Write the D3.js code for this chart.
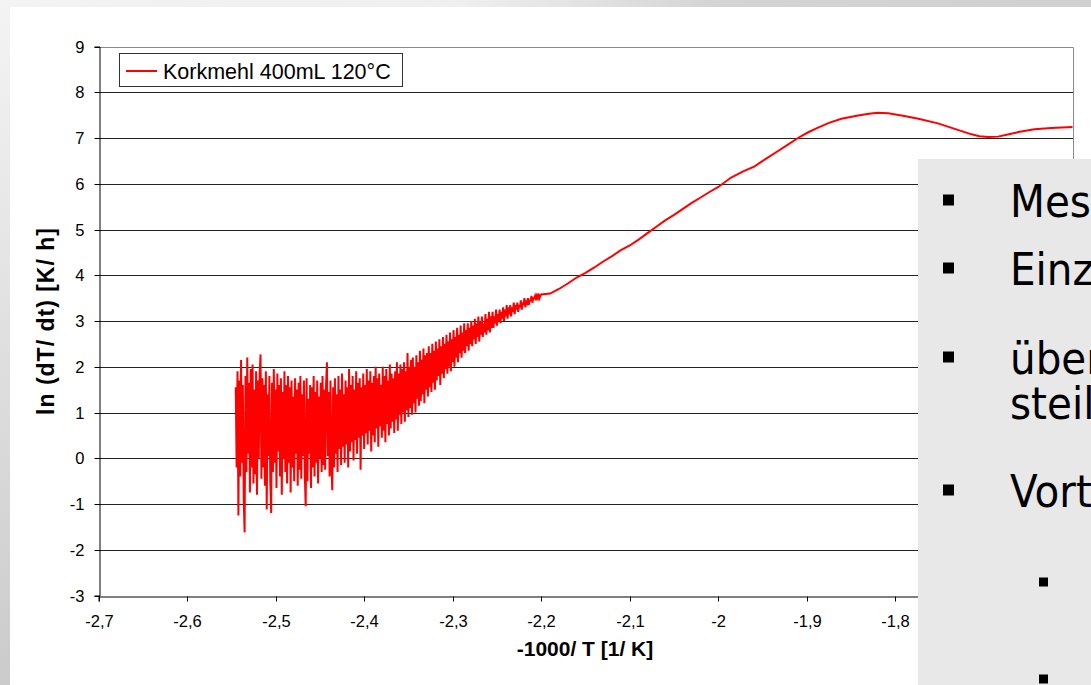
<!DOCTYPE html>
<html>
<head>
<meta charset="utf-8">
<script src="https://cdn.jsdelivr.net/npm/d3@7"></script>
<style>
  html, body { margin: 0; padding: 0; background: #fff; overflow: hidden; }
  svg { display: block; }
</style>
</head>
<body>
<svg id="chart" width="1091" height="685"></svg>
<script>
// Axis ticks
const yTicks = [-3, -2, -1, 0, 1, 2, 3, 4, 5, 6, 7, 8, 9];
const xTicks = [-2.7, -2.6, -2.5, -2.4, -2.3, -2.2, -2.1, -2.0, -1.9, -1.8, -1.7, -1.6];

// Series: ln(dT/dt) over -1000/T, noisy low-temperature part
const noiseX = [
  -2.545, -2.544, -2.543, -2.542, -2.541, -2.540, -2.539, -2.538, -2.537, -2.536,
  -2.535, -2.534, -2.533, -2.532, -2.531, -2.530, -2.529, -2.528, -2.527, -2.526,
  -2.525, -2.524, -2.523, -2.522, -2.521, -2.520, -2.519, -2.518, -2.517, -2.516,
  -2.515, -2.514, -2.513, -2.512, -2.511, -2.510, -2.509, -2.508, -2.507, -2.506,
  -2.505, -2.504, -2.503, -2.502, -2.501, -2.500, -2.499, -2.498, -2.497, -2.496,
  -2.495, -2.494, -2.493, -2.492, -2.491, -2.490, -2.489, -2.488, -2.487, -2.486,
  -2.485, -2.484, -2.483, -2.482, -2.481, -2.480, -2.479, -2.478, -2.477, -2.476,
  -2.475, -2.474, -2.473, -2.472, -2.471, -2.470, -2.469, -2.468, -2.467, -2.466,
  -2.465, -2.464, -2.463, -2.462, -2.461, -2.460, -2.459, -2.458, -2.457, -2.456,
  -2.455, -2.454, -2.453, -2.452, -2.451, -2.450, -2.449, -2.448, -2.447, -2.446,
  -2.445, -2.444, -2.443, -2.442, -2.441, -2.440, -2.439, -2.438, -2.437, -2.436,
  -2.435, -2.434, -2.433, -2.432, -2.431, -2.430, -2.429, -2.428, -2.427, -2.426,
  -2.425, -2.424, -2.423, -2.422, -2.421, -2.420, -2.419, -2.418, -2.417, -2.416,
  -2.415, -2.414, -2.413, -2.412, -2.411, -2.410, -2.409, -2.408, -2.407, -2.406,
  -2.405, -2.404, -2.403, -2.402, -2.401, -2.400, -2.399, -2.398, -2.397, -2.396,
  -2.395, -2.394, -2.393, -2.392, -2.391, -2.390, -2.389, -2.388, -2.387, -2.386,
  -2.385, -2.384, -2.383, -2.382, -2.381, -2.380, -2.379, -2.378, -2.377, -2.376,
  -2.375, -2.374, -2.373, -2.372, -2.371, -2.370, -2.369, -2.368, -2.367, -2.366,
  -2.365, -2.364, -2.363, -2.362, -2.361, -2.360, -2.359, -2.358, -2.357, -2.356,
  -2.355, -2.354, -2.353, -2.352, -2.351, -2.350, -2.349, -2.348, -2.347, -2.346,
  -2.345, -2.344, -2.343, -2.342, -2.341, -2.340, -2.339, -2.338, -2.337, -2.336,
  -2.335, -2.334, -2.333, -2.332, -2.331, -2.330, -2.329, -2.328, -2.327, -2.326,
  -2.325, -2.324, -2.323, -2.322, -2.321, -2.320, -2.319, -2.318, -2.317, -2.316,
  -2.315, -2.314, -2.313, -2.312, -2.311, -2.310, -2.309, -2.308, -2.307, -2.306,
  -2.305, -2.304, -2.303, -2.302, -2.301, -2.300, -2.299, -2.298, -2.297, -2.296,
  -2.295, -2.294, -2.293, -2.292, -2.291, -2.290, -2.289, -2.288, -2.287, -2.286,
  -2.285, -2.284, -2.283, -2.282, -2.281, -2.280, -2.279, -2.278, -2.277, -2.276,
  -2.275, -2.274, -2.273, -2.272, -2.271, -2.270, -2.269, -2.268, -2.267, -2.266,
  -2.265, -2.264, -2.263, -2.262, -2.261, -2.260, -2.259, -2.258, -2.257, -2.256,
  -2.255, -2.254, -2.253, -2.252, -2.251, -2.250, -2.249, -2.248, -2.247, -2.246,
  -2.245, -2.244, -2.243, -2.242, -2.241, -2.240, -2.239, -2.238, -2.237, -2.236,
  -2.235, -2.234, -2.233, -2.232, -2.231, -2.230, -2.229, -2.228, -2.227, -2.226,
  -2.225, -2.224, -2.223, -2.222, -2.221, -2.220, -2.219, -2.218, -2.217, -2.216,
  -2.215, -2.214, -2.213, -2.212, -2.211, -2.210, -2.209, -2.208, -2.207, -2.206,
  -2.205, -2.204, -2.203, -2.202, -2.201, -2.200
];
const noiseY = [
  1.55, -0.2, 1.9, -1.25, 1.7, -0.4, 2.15, -0.1, 1.6, -0.9,
  -1.62, 1.8, -0.3, 2.2, 0.1, 1.65, -0.75, 1.95, -0.2, 2.05,
  -0.55, 1.5, -0.35, 1.9, -0.8, 1.7, 0.0, 1.85, 2.27, -0.45,
  1.75, -0.2, 1.6, -0.6, 1.9, -1.12, 1.4, 0.05, 1.8, -0.5,
  -1.2, 1.65, -0.3, 1.95, -0.1, 1.5, -0.65, 1.85, 0.15, 1.6,
  -0.4, 1.75, -0.8, 1.45, 0.0, 1.9, -0.3, 1.6, -0.55, 1.8,
  -0.1, 1.55, -0.75, 1.7, -0.2, 1.35, -0.5, 1.75, 0.1, 1.5,
  -0.6, 1.65, -0.25, 1.8, -0.45, 1.4, 0.05, 1.7, -0.35, -1.05,
  1.75, -0.5, 1.3, 0.1, 1.6, -0.65, 1.55, -0.2, 1.8, -0.4,
  1.45, -0.1, 1.7, -0.55, 1.35, 0.0, 1.65, -0.3, 1.8, -0.15,
  1.5, -0.25, 1.6, 2.1, 0.05, 1.45, -0.4, 1.7, -0.1, -0.7,
  1.55, -0.2, 1.75, 0.1, 1.4, -0.3, 1.8, 0.2, 1.5, -0.15,
  1.85, 0.25, 1.4, -0.1, 1.7, 0.3, 1.55, -0.2, 1.95, 0.15,
  1.6, 0.35, 1.8, -0.05, 1.5, 0.4, 1.9, 0.1, 1.65, 0.45,
  1.75, -0.25, 1.55, 0.5, 1.85, 0.2, 1.6, 0.55, 1.95, 0.3,
  1.7, 0.6, 1.9, 0.15, 1.65, 0.5, 1.8, 0.35, 2.0, 0.65,
  1.75, 0.25, 1.85, 0.7, 1.6, 0.45, 2.0, 0.6, 1.8, 0.35,
  1.95, 0.75, 1.7, 0.5, 2.05, 0.65, 1.85, 0.8, 1.75, 0.55,
  1.9, 0.85, 2.1, 0.6, 1.85, 0.95, 2.05, 0.75, 1.95, 1.0,
  2.1, 0.8, 1.9, 1.05, 2.3, 0.9, 2.0, 1.1, 2.15, 0.95,
  2.2, 1.2, 2.0, 1.0, 2.25, 1.3, 2.1, 1.15, 2.35, 1.25,
  2.15, 1.4, 2.4, 1.2, 2.25, 1.5, 2.3, 1.35, 2.45, 1.55,
  2.3, 1.45, 2.5, 1.65, 2.35, 1.5, 2.55, 1.7, 2.4, 1.8,
  2.6, 1.6, 2.45, 1.85, 2.65, 1.75, 2.5, 1.95, 2.7, 1.85,
  2.55, 2.0, 2.75, 1.9, 2.6, 2.1, 2.8, 2.0, 2.65, 2.2,
  2.85, 2.1, 2.7, 2.3, 2.9, 2.2, 2.75, 2.35, 2.95, 2.3,
  2.8, 2.45, 2.95, 2.35, 2.85, 2.5, 3.0, 2.45, 2.9, 2.6,
  3.05, 2.5, 2.95, 2.65, 3.1, 2.55, 3.0, 2.7, 3.1, 2.65,
  2.95, 2.75, 3.15, 2.7, 3.05, 2.8, 3.2, 2.75, 3.1, 2.85,
  3.2, 2.85, 3.1, 2.95, 3.25, 2.9, 3.15, 3.0, 3.25, 2.95,
  3.2, 3.05, 3.3, 3.0, 3.25, 3.1, 3.35, 3.05, 3.3, 3.15,
  3.35, 3.1, 3.3, 3.2, 3.4, 3.15, 3.35, 3.25, 3.4, 3.2,
  3.35, 3.3, 3.45, 3.25, 3.4, 3.35, 3.5, 3.3, 3.45, 3.4,
  3.5, 3.35, 3.45, 3.45, 3.55, 3.4, 3.5, 3.5, 3.55, 3.45,
  3.55, 3.5, 3.6, 3.5, 3.55, 3.58
];
// Smooth high-temperature part
const smoothX = [
  -2.19, -2.18, -2.17, -2.16, -2.15, -2.14, -2.13, -2.12, -2.11, -2.10,
  -2.09, -2.08, -2.07, -2.06, -2.05, -2.04, -2.03, -2.02, -2.01, -2.00,
  -1.986, -1.972, -1.959, -1.946, -1.933, -1.921, -1.910, -1.899, -1.888, -1.875,
  -1.861, -1.842, -1.830, -1.820, -1.808, -1.790, -1.774, -1.752, -1.733, -1.714,
  -1.705, -1.695, -1.684, -1.672, -1.661, -1.643, -1.624, -1.600
];
const smoothY = [
  3.6, 3.7, 3.82, 3.95, 4.05, 4.17, 4.3, 4.42, 4.55, 4.65,
  4.78, 4.92, 5.06, 5.2, 5.32, 5.45, 5.58, 5.7, 5.82, 5.93,
  6.13, 6.27, 6.38, 6.55, 6.71, 6.86, 7.0, 7.12, 7.22, 7.33,
  7.42, 7.49, 7.53, 7.55, 7.54, 7.48, 7.42, 7.32, 7.2, 7.08,
  7.04, 7.02, 7.03, 7.08, 7.13, 7.19, 7.22, 7.24
];

const seriesName = "Korkmehl 400mL 120°C";
const xTitle = "-1000/ T [1/ K]";
const yTitle = "ln (dT/ dt) [K/ h]";
const bulletLines = ["Messungen", "Einzelwerte", "überwiegend", "steiler", "Vorteile"];

const svg = d3.select("#chart");
const W = 1091, H = 685;
const defs = svg.append("defs");

// Slide background
svg.append("rect").attr("width", W).attr("height", H).attr("fill", "#fff");
const gLeft = defs.append("linearGradient").attr("id", "gLeft")
  .attr("x1", 0).attr("y1", 0).attr("x2", 0).attr("y2", 1);
gLeft.append("stop").attr("offset", 0).attr("stop-color", "#f4f4f4");
gLeft.append("stop").attr("offset", 1).attr("stop-color", "#cbcbcb");
const gTop = defs.append("linearGradient").attr("id", "gTop")
  .attr("x1", 0).attr("y1", 0).attr("x2", 1).attr("y2", 0);
gTop.append("stop").attr("offset", 0).attr("stop-color", "#f3f3f3");
gTop.append("stop").attr("offset", 0.42).attr("stop-color", "#efefef");
gTop.append("stop").attr("offset", 0.66).attr("stop-color", "#d4d4d4");
gTop.append("stop").attr("offset", 1).attr("stop-color", "#d0d0d0");
svg.append("rect").attr("x", 0).attr("y", 0).attr("width", W).attr("height", 7).attr("fill", "url(#gTop)");
svg.append("rect").attr("x", 0).attr("y", 0).attr("width", 10).attr("height", H).attr("fill", "url(#gLeft)");

// Scales
const x = d3.scaleLinear().domain([-2.7, -1.6]).range([98.5, 1072.5]);
const y = d3.scaleLinear().domain([-3, 9]).range([595.5, 46.5]);
const py = v => Math.round(y(v)) + 0.5;
const px = v => Math.round(x(v)) + 0.5;

const plot = svg.append("g");

// Horizontal gridlines
plot.selectAll("line.grid").data(yTicks.filter(v => v > -3 && v < 9)).join("line")
  .attr("class", "grid")
  .attr("x1", x(-2.7)).attr("x2", px(-1.6))
  .attr("y1", py).attr("y2", py)
  .attr("stroke", "#222").attr("stroke-width", 1);

// Plot frame (top and right)
plot.append("path")
  .attr("d", `M${x(-2.7)},${py(9)}H${px(-1.6)}V${py(-3)}`)
  .attr("fill", "none").attr("stroke", "#8a8a8a").attr("stroke-width", 1);

// Axes
const fmt = d => String(d).replace(".", ",");
const yAxis = d3.axisLeft(y).tickValues(yTicks).tickSize(5).tickPadding(10).tickFormat(fmt);
const xAxis = d3.axisBottom(x).tickValues(xTicks).tickSize(5).tickPadding(14).tickFormat(fmt);

const gy = plot.append("g").attr("transform", `translate(${px(-2.7)},0)`).call(yAxis);
const gx = plot.append("g").attr("transform", `translate(0,${py(-3)})`).call(xAxis);
[gx, gy].forEach(g => {
  g.select(".domain").attr("stroke", "#000");
  g.selectAll(".tick line").attr("stroke", "#000");
  g.selectAll(".tick text")
    .attr("font-family", "'Liberation Sans', Arial, sans-serif")
    .attr("font-size", 16.5).attr("fill", "#000");
});
gy.selectAll(".tick").attr("transform", d => `translate(0,${py(d)})`);
gx.selectAll(".tick").attr("transform", d => `translate(${px(d)},0)`);

// Series line
const pts = noiseX.map((v, i) => [v, noiseY[i]])
  .concat(smoothX.map((v, i) => [v, smoothY[i]]));
const line = d3.line().x(d => x(d[0])).y(d => y(d[1]));
plot.append("path").datum(pts)
  .attr("d", line)
  .attr("fill", "none").attr("stroke", "#ff0000").attr("stroke-width", 2);

// Legend
const leg = svg.append("g");
leg.append("rect").attr("x", 119.5).attr("y", 53.5).attr("width", 283).attr("height", 33)
  .attr("fill", "#fff").attr("stroke", "#333").attr("stroke-width", 1);
leg.append("line").attr("x1", 126).attr("x2", 157).attr("y1", 71).attr("y2", 71)
  .attr("stroke", "#ff0000").attr("stroke-width", 2);
leg.append("text").attr("x", 163).attr("y", 78.5).text(seriesName)
  .attr("font-family", "'Liberation Sans', Arial, sans-serif")
  .attr("font-size", 21.5).attr("fill", "#000");

// Axis titles
svg.append("text").attr("x", 585).attr("y", 656).attr("text-anchor", "middle")
  .attr("font-family", "'Liberation Sans', Arial, sans-serif").attr("font-weight", "bold")
  .attr("font-size", 21).attr("fill", "#000").text(xTitle);
svg.append("text").attr("transform", "translate(54,321) rotate(-90)").attr("text-anchor", "middle")
  .attr("font-family", "'Liberation Sans', Arial, sans-serif").attr("font-weight", "bold")
  .attr("font-size", 23).attr("letter-spacing", 1).attr("fill", "#000").text(yTitle);

// Text panel overlapping the chart on the right
const panel = svg.append("g");
panel.append("rect").attr("x", 918).attr("y", 159).attr("width", W - 918).attr("height", H - 159)
  .attr("fill", "#e8e8e8");
const bullets = [200, 268, 357, 490];
panel.selectAll("rect.b").data(bullets).join("rect").attr("class", "b")
  .attr("x", 943).attr("y", d => d - 5.5).attr("width", 11).attr("height", 11).attr("fill", "#000");
const lines = [
  { y: 200, text: bulletLines[0] },
  { y: 268, text: bulletLines[1] },
  { y: 357, text: bulletLines[2] },
  { y: 402, text: bulletLines[3] },
  { y: 490, text: bulletLines[4] }
];
panel.selectAll("text.t").data(lines).join("text").attr("class", "t")
  .attr("transform", d => `translate(1010,${d.y + 17}) scale(0.9,1)`)
  .attr("font-family", "'DejaVu Sans', Verdana, sans-serif")
  .attr("font-size", 45).attr("fill", "#000").text(d => d.text);
panel.selectAll("rect.s").data([582, 679]).join("rect").attr("class", "s")
  .attr("x", 1039).attr("y", d => d - 4.5).attr("width", 9).attr("height", 9).attr("fill", "#000");
</script>
</body>
</html>
